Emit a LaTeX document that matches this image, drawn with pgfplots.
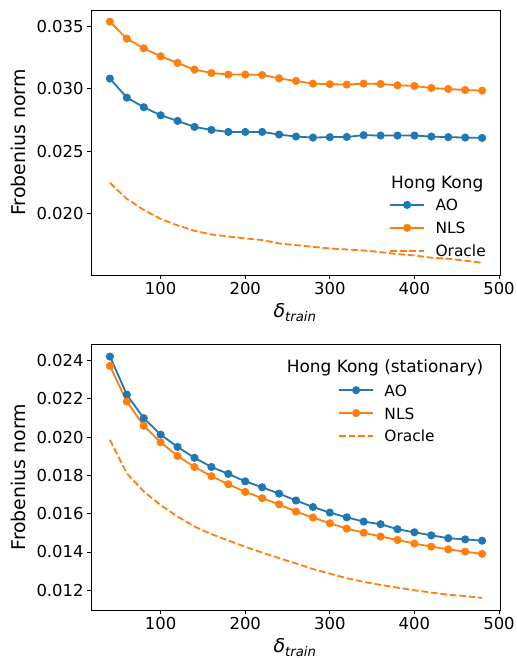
\documentclass[border=0pt]{standalone}
\usepackage{fontspec}
\setmainfont{DejaVu Sans}
\usepackage{pgfplots}
\usepackage{pgfplotstable}
\pgfplotsset{compat=1.18}
\definecolor{tabblue}{HTML}{1F77B4}
\definecolor{taborange}{HTML}{FF7F0E}

% top panel: Hong Kong
\pgfplotstableread{
x ao nls oracle
40 0.03080 0.03535 0.02247
60 0.02928 0.03399 0.02119
80 0.02851 0.03322 0.02031
100 0.02787 0.03258 0.01959
120 0.02742 0.03205 0.01907
140 0.02694 0.03152 0.01864
160 0.02670 0.03125 0.01835
180 0.02654 0.03112 0.01819
200 0.02654 0.03112 0.01803
220 0.02654 0.03109 0.01790
240 0.02633 0.03082 0.01763
260 0.02617 0.03061 0.01750
280 0.02609 0.03040 0.01736
300 0.02612 0.03035 0.01723
320 0.02614 0.03032 0.01715
340 0.02628 0.03040 0.01707
360 0.02625 0.03037 0.01694
380 0.02625 0.03027 0.01678
400 0.02625 0.03021 0.01667
420 0.02617 0.03005 0.01649
440 0.02612 0.02997 0.01641
460 0.02609 0.02989 0.01625
480 0.02606 0.02984 0.01609
}\hk

% bottom panel: Hong Kong (stationary)
\pgfplotstableread{
x ao nls oracle
40 0.02421 0.02372 0.01986
60 0.02222 0.02186 0.01811
80 0.02099 0.02059 0.01716
100 0.02013 0.01973 0.01645
120 0.01949 0.01902 0.01585
140 0.01892 0.01844 0.01533
160 0.01844 0.01796 0.01493
180 0.01808 0.01754 0.01460
200 0.01769 0.01714 0.01427
220 0.01738 0.01681 0.01397
240 0.01705 0.01649 0.01368
260 0.01669 0.01611 0.01340
280 0.01635 0.01580 0.01311
300 0.01606 0.01550 0.01287
320 0.01581 0.01522 0.01263
340 0.01559 0.01501 0.01244
360 0.01545 0.01481 0.01228
380 0.01519 0.01463 0.01214
400 0.01503 0.01444 0.01200
420 0.01487 0.01428 0.01188
440 0.01472 0.01414 0.01177
460 0.01466 0.01402 0.01170
480 0.01459 0.01390 0.01160
}\hks

\pgfplotsset{
  panel/.style={
    scale only axis, width=409.4bp, anchor=south west,
    xmin=18, xmax=502,
    xtick={100,200,300,400,500},
    tick align=outside, tick pos=left,
    major tick length=4.2bp,
    every tick/.style={black, line width=0.9bp},
    axis line style={line width=0.9bp},
    tick label style={font=\fontsize{16.5}{20}\selectfont},
    /pgf/number format/assume math mode=true,
    yticklabel style={/pgf/number format/fixed, /pgf/number format/fixed zerofill, /pgf/number format/precision=3},
    scaled y ticks=false,
    ylabel={Frobenius norm},
    xlabel={\itshape δ\raisebox{-3.5bp}{\fontsize{13.3}{14}\selectfont train}},
    label style={font=\fontsize{19}{22}\selectfont},
    ylabel style={at={(axis description cs:-0.178,0.5)}, anchor=center, rotate=0},
    xlabel style={at={(axis description cs:0.497,-0.161)}, anchor=base},
    legend style={draw=none, fill=none, font=\fontsize{15.5}{18}\selectfont,
      anchor=north west, inner sep=0pt, row sep=10.9bp,
      nodes={inner sep=0pt, text height=12bp, text depth=0bp}},
    legend cell align=left,
    legend image code/.code={\draw[mark repeat=2,mark phase=2,##1] plot coordinates {(0bp,0bp)(16.7bp,0bp)(33.4bp,0bp)};\path (44.2bp,0bp);},
  },
  ao/.style={tabblue, line width=1.8bp, mark=*, mark size=3.6bp, mark options={solid, line width=0.9bp, fill=tabblue, draw=tabblue}},
  nls/.style={taborange, line width=1.8bp, mark=*, mark size=3.6bp, mark options={solid, line width=0.9bp, fill=taborange, draw=taborange}},
  orc/.style={taborange, line width=1.8bp, dash pattern=on 6.6bp off 2.9bp, mark=none},
}

\begin{document}
\begin{tikzpicture}
\useasboundingbox (0,0) rectangle (517bp,658bp);

\begin{axis}[panel, at={(91.3bp,383bp)}, height=265bp,
  ymin=0.01511, ymax=0.03628,
  ytick={0.020,0.025,0.030,0.035},
  legend style={at={(rel axis cs:0.7279,0.2879)}}]
\addplot[ao] table[x=x, y=ao] {\hk};
\addlegendentry{AO}
\addplot[nls] table[x=x, y=nls] {\hk};
\addlegendentry{NLS}
\addplot[orc] table[x=x, y=oracle] {\hk};
\addlegendentry{Oracle}
\node[anchor=base west, font=\fontsize{17}{20}\selectfont, inner sep=0pt] at (rel axis cs:0.7320,0.3272) {Hong Kong};
\end{axis}

\begin{axis}[panel, at={(91.3bp,48bp)}, height=265.7bp,
  ymin=0.01097, ymax=0.02485,
  ytick={0.012,0.014,0.016,0.018,0.020,0.022,0.024},
  legend style={at={(rel axis cs:0.6033,0.8506)}}]
\addplot[ao] table[x=x, y=ao] {\hks};
\addlegendentry{AO}
\addplot[nls] table[x=x, y=nls] {\hks};
\addlegendentry{NLS}
\addplot[orc] table[x=x, y=oracle] {\hks};
\addlegendentry{Oracle}
\node[anchor=base west, font=\fontsize{17}{20}\selectfont, inner sep=0pt] at (rel axis cs:0.4771,0.8931) {Hong Kong (stationary)};
\end{axis}
\end{tikzpicture}
\end{document}
